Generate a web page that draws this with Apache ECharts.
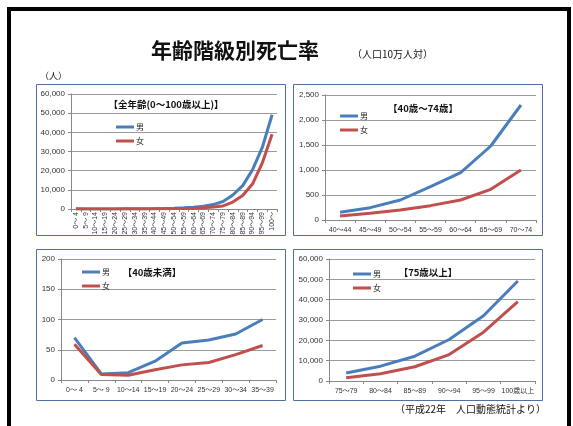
<!DOCTYPE html>
<html>
<head>
<meta charset="utf-8">
<script src="https://cdn.jsdelivr.net/npm/echarts@6/dist/echarts.min.js"></script>
<style>
  html, body { margin: 0; padding: 0; background: #fff; }
  #chart { width: 573px; height: 426px; }
</style>
</head>
<body>
<div id="chart"></div>
<script>
// 年齢階級（5歳刻み）
const ageGroups = ['0～ 4', '5～ 9', '10～14', '15～19', '20～24', '25～29', '30～34', '35～39',
  '40～44', '45～49', '50～54', '55～59', '60～64', '65～69', '70～74',
  '75～79', '80～84', '85～89', '90～94', '95～99', '100～'];

// 人口10万人あたりの死亡率
const maleRate = [70, 10, 12, 31, 61, 66, 76, 100, 153, 247, 400, 667, 947, 1480, 2300,
  3900, 7300, 12200, 20400, 32100, 49200];
const femaleRate = [59, 9, 8, 17, 25, 29, 42, 57, 80, 133, 200, 287, 400, 613, 1000,
  1600, 3600, 7000, 13000, 24000, 39000];

// 各パネルの年齢範囲（ageGroups の添字）
const under40 = [0, 8];
const age40to74 = [8, 15];
const over75 = [15, 21];
const lastLabel75 = '100歳以上';

const seriesNames = ['男', '女'];
const colors = ['#4a7ebb', '#c0504d'];
const FONT = '"Liberation Sans", "Noto Sans CJK JP", sans-serif';
const JP = '"Noto Sans CJK JP", sans-serif';

const panels = [
  { grid: { left: 71, top: 94, width: 206, height: 115 }, range: [0, 21], max: 60000, interval: 10000, rotate: 90,
    box: [36, 84, 249, 151], title: '【全年齢(0～100歳以上)】', tx: 166, ty: 104, lx: 116, ly: 122 },
  { grid: { left: 325, top: 95, width: 211, height: 125 }, range: age40to74, max: 2500, interval: 500, rotate: 0,
    box: [293, 84, 249, 151], title: '【40歳～74歳】', tx: 423, ty: 108, lx: 340, ly: 111 },
  { grid: { left: 61, top: 259, width: 215, height: 121 }, range: under40, max: 200, interval: 50, rotate: 0,
    box: [36, 249, 249, 151], title: '【40歳未満】', tx: 152, ty: 272, lx: 82, ly: 267 },
  { grid: { left: 329, top: 259, width: 206, height: 122 }, range: over75, max: 60000, interval: 10000, rotate: 0,
    box: [293, 249, 249, 151], title: '【75歳以上】', tx: 428, ty: 272, lx: 353, ly: 269, last: lastLabel75 }
];

const grids = [], xAxes = [], yAxes = [], series = [], legends = [], graphics = [];

panels.forEach((p, i) => {
  const cats = ageGroups.slice(p.range[0], p.range[1]);
  if (p.last) cats[cats.length - 1] = p.last;
  grids.push(p.grid);
  xAxes.push({
    type: 'category', gridIndex: i, data: cats, boundaryGap: true,
    axisLine: { lineStyle: { color: '#888', width: 1 } },
    axisTick: { show: true, length: 3, lineStyle: { color: '#888' } },
    axisLabel: { interval: 0, rotate: p.rotate, fontSize: 7, color: '#333',
      fontFamily: FONT, margin: p.rotate ? 3 : 7 }
  });
  yAxes.push({
    type: 'value', gridIndex: i, min: 0, max: p.max, interval: p.interval,
    axisLine: { show: true, lineStyle: { color: '#888', width: 1 } },
    axisTick: { show: true, length: 3, lineStyle: { color: '#888' } },
    axisLabel: { fontSize: 8, color: '#333', fontFamily: FONT, margin: 6,
      formatter: v => v.toLocaleString('en-US') },
    splitLine: { lineStyle: { color: '#9a9a9a', width: 1 } }
  });
  [maleRate, femaleRate].forEach((arr, k) => {
    series.push({
      name: seriesNames[k], type: 'line', xAxisIndex: i, yAxisIndex: i,
      data: arr.slice(p.range[0], p.range[1]),
      symbol: 'none', smooth: false, silent: true,
      lineStyle: { width: 3, color: colors[k] }, itemStyle: { color: colors[k] }
    });
  });
  legends.push({
    data: seriesNames, left: p.lx, top: p.ly, orient: 'vertical', selectedMode: false,
    padding: 0, icon: 'rect', itemWidth: 18, itemHeight: 3, itemGap: 4,
    textStyle: { fontSize: 8, color: '#222', fontFamily: JP, lineHeight: 10, padding: [0, 0, 0, -3] }
  });
  graphics.push({
    type: 'rect', shape: { x: p.box[0] + 0.5, y: p.box[1] + 0.5, width: p.box[2], height: p.box[3] },
    style: { fill: null, stroke: '#4f6f9f', lineWidth: 1 }, z: 1
  });
  graphics.push({
    type: 'text', x: p.tx, y: p.ty,
    style: { text: p.title, fontSize: 9.5, fontWeight: 'bold', fill: '#111', fontFamily: JP,
      textAlign: 'center', textVerticalAlign: 'middle' }
  });
});

// ページ枠と見出し
graphics.push(
  { type: 'rect', shape: { x: 7, y: 7, width: 4, height: 419 }, style: { fill: '#000' } },
  { type: 'rect', shape: { x: 7, y: 7, width: 564, height: 4 }, style: { fill: '#000' } },
  { type: 'rect', shape: { x: 567, y: 7, width: 4, height: 419 }, style: { fill: '#000' } },
  { type: 'text', x: 235, y: 50, style: { text: '年齢階級別死亡率', fontSize: 21, fontWeight: 'bold', fill: '#111',
      fontFamily: JP, textAlign: 'center', textVerticalAlign: 'middle' } },
  { type: 'text', x: 352, y: 54, style: { text: '（人口10万人対）', fontSize: 10, fill: '#111',
      fontFamily: JP, textAlign: 'left', textVerticalAlign: 'middle' } },
  { type: 'text', x: 40, y: 76, style: { text: '（人）', fontSize: 9, fill: '#111',
      fontFamily: JP, textAlign: 'left', textVerticalAlign: 'middle' } },
  { type: 'text', x: 546, y: 409, style: { text: '（平成22年　人口動態統計より）', fontSize: 10, fill: '#111',
      fontFamily: JP, textAlign: 'right', textVerticalAlign: 'middle' } }
);

const chart = echarts.init(document.getElementById('chart'), null, { renderer: 'canvas' });
chart.setOption({
  animation: false,
  backgroundColor: '#fff',
  grid: grids, xAxis: xAxes, yAxis: yAxes, series: series, legend: legends,
  graphic: graphics
});
</script>
</body>
</html>
